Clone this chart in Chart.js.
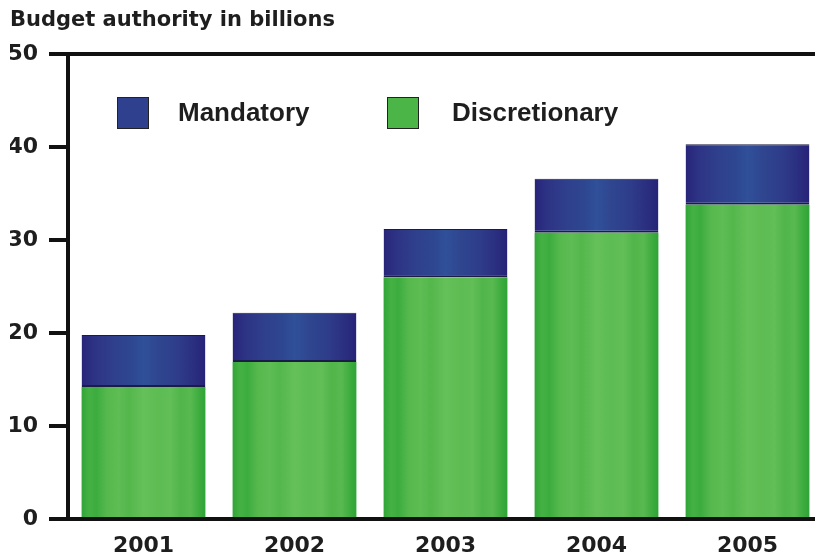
<!DOCTYPE html>
<html>
<head>
<meta charset="utf-8">
<title>Budget authority in billions</title>
<script src="https://cdn.jsdelivr.net/npm/chart.js@4.4.0/dist/chart.umd.min.js"></script>
<style>
    html, body { margin: 0; padding: 0; background: #fff; overflow: hidden; }
    canvas { display: block; }
</style>
</head>
<body>
<canvas id="budgetChart" width="823" height="559"></canvas>
<script>
// Data
const years = ['2001', '2002', '2003', '2004', '2005'];
const discretionary = [14.2, 16.9, 26.0, 30.8, 33.8];
const mandatory = [5.6, 5.3, 5.2, 5.8, 6.5];
const yTicks = [0, 10, 20, 30, 40, 50];

const BAR_SHARE = 0.82;
const TEXT = '#1e1e1e';
const AXIS = '#111111';

// vertical stripes across each bar, darker at the edges
const greenStops = [
    [0, '#31a538'], [0.06, '#45b144'], [0.12, '#3cac3f'], [0.2, '#55b84d'],
    [0.3, '#5ebd54'], [0.38, '#53b74c'], [0.5, '#65c059'], [0.62, '#5dbc53'],
    [0.72, '#62be57'], [0.8, '#50b54a'], [0.88, '#58b950'], [0.95, '#3dac3f'], [1, '#2fa436']
];
const blueStops = [
    [0, '#27247a'], [0.1, '#2d3384'], [0.25, '#2f3f8c'], [0.4, '#2e4690'],
    [0.5, '#30509a'], [0.62, '#2f468f'], [0.78, '#2e3c89'], [0.9, '#2b2f80'], [1, '#262378']
];

function stripeFill(stops, fallback) {
    return function(context) {
        const chart = context.chart;
        const xScale = chart.scales.x;
        if (!chart.chartArea || !xScale) return fallback;
        const cx = xScale.getPixelForValue(context.dataIndex);
        const half = xScale.width / years.length * BAR_SHARE / 2;
        const g = chart.ctx.createLinearGradient(cx - half, 0, cx + half, 0);
        stops.forEach(s => g.addColorStop(s[0], s[1]));
        return g;
    };
}

// legend sits inside the plot, Mandatory first
const insideLegend = {
    id: 'insideLegend',
    afterDraw(chart) {
        const ctx = chart.ctx;
        const sets = chart.data.datasets;
        const items = [
            { ds: sets[1], box: 117, text: 178 },
            { ds: sets[0], box: 387, text: 452 }
        ];
        ctx.save();
        ctx.font = 'bold 26px "Liberation Sans", Arial, sans-serif';
        ctx.textBaseline = 'middle';
        items.forEach(item => {
            ctx.fillStyle = item.ds.legendColor;
            ctx.fillRect(item.box, 97, 32, 32);
            ctx.strokeStyle = '#222';
            ctx.lineWidth = 1;
            ctx.strokeRect(item.box + 0.5, 97.5, 31, 31);
            ctx.fillStyle = TEXT;
            ctx.fillText(item.ds.label, item.text, 114);
        });
        ctx.restore();
    }
};

const ctx = document.getElementById('budgetChart').getContext('2d');

new Chart(ctx, {
    type: 'bar',
    data: {
        labels: years,
        datasets: [{
            label: 'Discretionary',
            data: discretionary,
            legendColor: '#4cb548',
            backgroundColor: stripeFill(greenStops, '#4cb548'),
            borderWidth: 0,
            barPercentage: BAR_SHARE,
            categoryPercentage: 1
        }, {
            label: 'Mandatory',
            data: mandatory,
            legendColor: '#2f418e',
            backgroundColor: stripeFill(blueStops, '#2f418e'),
            borderColor: '#1b1c44',
            borderWidth: { top: 1, bottom: 2, left: 0, right: 0 },
            borderSkipped: false,
            barPercentage: BAR_SHARE,
            categoryPercentage: 1
        }]
    },
    options: {
        responsive: false,
        animation: false,
        layout: {
            padding: { left: 10, right: 0, top: 0, bottom: 0 }
        },
        plugins: {
            legend: { display: false },
            tooltip: { enabled: false },
            title: {
                display: true,
                text: 'Budget authority in billions',
                align: 'start',
                color: TEXT,
                font: { family: '"DejaVu Sans", sans-serif', size: 21, weight: 'bold' },
                padding: { top: 8, bottom: 21 }
            }
        },
        scales: {
            x: {
                stacked: true,
                grid: { display: false, drawTicks: false },
                border: { display: true, color: AXIS, width: 4 },
                ticks: {
                    color: TEXT,
                    padding: 14,
                    font: { family: '"DejaVu Sans", sans-serif', size: 22, weight: 'bold' }
                },
                afterFit(scale) { scale.height = 40; }
            },
            y: {
                stacked: true,
                min: 0,
                max: 50,
                afterBuildTicks(scale) {
                    scale.ticks = yTicks.map(v => ({ value: v }));
                },
                grid: {
                    color: c => (c.tick && c.tick.value === 50 ? AXIS : 'rgba(0,0,0,0)'),
                    lineWidth: 4,
                    tickColor: AXIS,
                    tickWidth: 4,
                    tickLength: 19
                },
                border: { display: true, color: AXIS, width: 4 },
                ticks: {
                    color: TEXT,
                    padding: 11,
                    font: { family: '"DejaVu Sans", sans-serif', size: 22, weight: 'bold' }
                },
                afterFit(scale) { scale.width = 58; }
            }
        }
    },
    plugins: [insideLegend]
});
</script>
</body>
</html>
